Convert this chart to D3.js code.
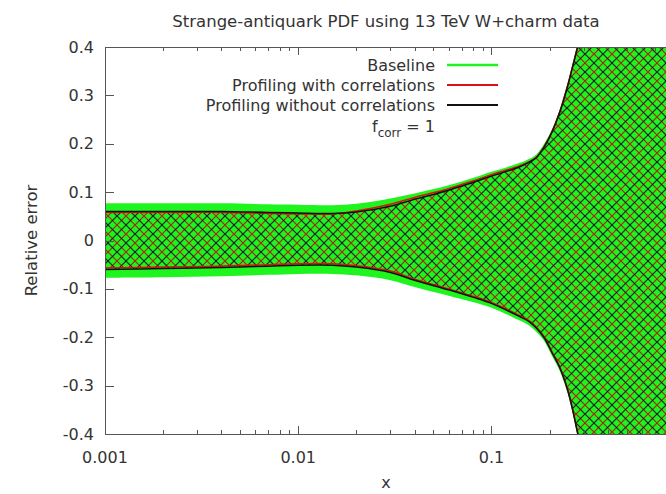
<!DOCTYPE html>
<html><head><meta charset="utf-8">
<script src="https://cdn.jsdelivr.net/npm/d3@7"></script>
<style>
html,body{margin:0;padding:0;background:#fff;}
svg{display:block;font-family:"DejaVu Sans",sans-serif;}
</style></head>
<body>
<svg id="c" width="666" height="494"></svg>
<script>
// ---- data ----
const title = "Strange-antiquark PDF using 13 TeV W+charm data";
const xLabel = "x";
const yLabel = "Relative error";
const xTickVals = [0.001, 0.01, 0.1];
const xTickLabels = ["0.001", "0.01", "0.1"];
const yTickVals = [-0.4, -0.3, -0.2, -0.1, 0, 0.1, 0.2, 0.3, 0.4];
const yTickLabels = ["-0.4", "-0.3", "-0.2", "-0.1", "0", "0.1", "0.2", "0.3", "0.4"];
const legendLabels = ["Baseline", "Profiling with correlations", "Profiling without correlations"];

const xs       = [0.001, 0.002, 0.004, 0.007, 0.01, 0.015, 0.02, 0.03, 0.04, 0.06, 0.08, 0.1, 0.1394, 0.1571, 0.1706, 0.1873, 0.2057, 0.2256, 0.2477, 0.2629, 0.279, 0.296, 0.325, 0.4, 0.6, 0.8];
const baseUp   = [0.077, 0.077, 0.077, 0.075, 0.074, 0.073, 0.076, 0.087, 0.097, 0.114, 0.129, 0.142, 0.160, 0.169, 0.178, 0.200, 0.230, 0.271, 0.325, 0.365, 0.406, 0.451, 0.54, 0.76, 1.4, 2.2];
const baseLo   = [-0.077, -0.076, -0.074, -0.071, -0.069, -0.069, -0.072, -0.082, -0.096, -0.114, -0.127, -0.139, -0.165, -0.176, -0.189, -0.208, -0.239, -0.270, -0.316, -0.356, -0.404, -0.451, -0.54, -0.76, -1.4, -2.2];
const corrUp   = [0.058, 0.058, 0.058, 0.056, 0.055, 0.055, 0.061, 0.075, 0.089, 0.107, 0.123, 0.136, 0.154, 0.163, 0.172, 0.194, 0.225, 0.266, 0.320, 0.360, 0.401, 0.446, 0.53, 0.75, 1.4, 2.2];
const corrLo   = [-0.057, -0.055, -0.053, -0.050, -0.048, -0.048, -0.052, -0.063, -0.080, -0.100, -0.115, -0.128, -0.155, -0.166, -0.179, -0.199, -0.230, -0.261, -0.307, -0.348, -0.396, -0.443, -0.53, -0.75, -1.4, -2.2];
const nocorrUp = [0.060, 0.060, 0.060, 0.058, 0.057, 0.056, 0.059, 0.071, 0.085, 0.104, 0.120, 0.133, 0.152, 0.162, 0.171, 0.193, 0.224, 0.265, 0.319, 0.359, 0.400, 0.445, 0.53, 0.75, 1.4, 2.2];
const nocorrLo = [-0.060, -0.058, -0.056, -0.053, -0.051, -0.051, -0.055, -0.066, -0.082, -0.102, -0.117, -0.130, -0.157, -0.168, -0.181, -0.201, -0.232, -0.263, -0.309, -0.350, -0.398, -0.445, -0.53, -0.75, -1.4, -2.2];

// ---- layout ----
const svg = d3.select("#c");
const L = 105, R = 666, T = 47, B = 434;
const x = d3.scaleLog().domain([0.001, 0.8]).range([L, R]);
const y = d3.scaleLinear().domain([-0.4, 0.4]).range([B, T]);
const GREEN = "#1ef51e", RED = "#e01010", BLACK = "#111";

const defs = svg.append("defs");
defs.append("clipPath").attr("id", "clip").append("rect")
  .attr("x", L).attr("y", T).attr("width", R - L).attr("height", B - T);

const P = 18;
function hatch(id, color, shift) {
  const p = defs.append("pattern").attr("id", id)
    .attr("patternUnits", "userSpaceOnUse").attr("width", P).attr("height", P)
    .attr("patternTransform", `translate(${shift},0)`);
  const e = 5;
  p.append("path")
    .attr("d", `M0,${P}L${P},0M${-e},${e}L${e},${-e}M${P-e},${P+e}L${P+e},${P-e}` +
               `M0,0L${P},${P}M${-e},${P-e}L${e},${P+e}M${P-e},${-e}L${P+e},${e}`)
    .attr("stroke", color).attr("stroke-width", 1.2).attr("fill", "none");
}
hatch("hRed", "#a02a10", 0);
hatch("hBlack", "#1a1a1a", P / 2);

const idx = d3.range(xs.length);
const curve = d3.curveCatmullRom.alpha(0.5);
const area = (up, lo) => d3.area().curve(curve)
  .x(i => x(xs[i])).y0(i => y(lo[i])).y1(i => y(up[i]));
const line = (arr) => d3.line().curve(curve)
  .x(i => x(xs[i])).y(i => y(arr[i]));

const g = svg.append("g").attr("clip-path", "url(#clip)");
g.append("path").attr("d", area(baseUp, baseLo)(idx)).attr("fill", GREEN);
g.append("path").attr("d", area(corrUp, corrLo)(idx)).attr("fill", "url(#hRed)");
g.append("path").attr("d", area(nocorrUp, nocorrLo)(idx)).attr("fill", "url(#hBlack)");
[corrUp, corrLo].forEach(a => g.append("path").attr("d", line(a)(idx))
  .attr("fill", "none").attr("stroke", RED).attr("stroke-width", 1.5));
[nocorrUp, nocorrLo].forEach(a => g.append("path").attr("d", line(a)(idx))
  .attr("fill", "none").attr("stroke", BLACK).attr("stroke-width", 1.5));

// ---- axes ----
const axisCol = "#555", textCol = "#333";
const minor = [];
[0.001, 0.01, 0.1].forEach(d => { for (let k = 2; k <= 9; k++) { const v = d * k; if (v <= 0.8) minor.push(v); } });

const ax = svg.append("g");
ax.append("line").attr("x1", L).attr("x2", R).attr("y1", B + 0.5).attr("y2", B + 0.5).attr("stroke", axisCol);
ax.append("line").attr("x1", L).attr("x2", R).attr("y1", T + 0.5).attr("y2", T + 0.5).attr("stroke", axisCol);
ax.append("line").attr("x1", L + 0.5).attr("x2", L + 0.5).attr("y1", T).attr("y2", B).attr("stroke", axisCol);

xTickVals.forEach(v => {
  const px = Math.round(x(v)) + 0.5;
  ax.append("line").attr("x1", px).attr("x2", px).attr("y1", B).attr("y2", B - 8).attr("stroke", axisCol);
  ax.append("line").attr("x1", px).attr("x2", px).attr("y1", T).attr("y2", T + 8).attr("stroke", axisCol);
});
minor.forEach(v => {
  const px = Math.round(x(v)) + 0.5;
  ax.append("line").attr("x1", px).attr("x2", px).attr("y1", B).attr("y2", B - 4).attr("stroke", axisCol);
  ax.append("line").attr("x1", px).attr("x2", px).attr("y1", T).attr("y2", T + 4).attr("stroke", axisCol);
});
yTickVals.forEach(v => {
  const py = Math.round(y(v)) + 0.5;
  ax.append("line").attr("x1", L).attr("x2", L + 9).attr("y1", py).attr("y2", py).attr("stroke", axisCol);
});

xTickVals.forEach((v, i) => {
  svg.append("text").attr("x", x(v)).attr("y", 463).attr("text-anchor", "middle")
    .attr("font-size", 16).attr("fill", textCol).text(xTickLabels[i]);
});
yTickVals.forEach((v, i) => {
  svg.append("text").attr("x", 94).attr("y", y(v)).attr("dy", "0.35em").attr("text-anchor", "end")
    .attr("font-size", 16).attr("fill", textCol).text(yTickLabels[i]);
});

svg.append("text").attr("x", 386).attr("y", 27).attr("text-anchor", "middle")
  .attr("font-size", 16.5).attr("fill", textCol).text(title);
svg.append("text").attr("x", 386).attr("y", 488).attr("text-anchor", "middle")
  .attr("font-size", 16).attr("fill", textCol).text(xLabel);
svg.append("text").attr("transform", "translate(37,240.5) rotate(-90)").attr("text-anchor", "middle")
  .attr("font-size", 16.5).attr("fill", textCol).text(yLabel);

const legCols = [GREEN, RED, BLACK];
const legW = [2.5, 1.8, 1.8];
legendLabels.forEach((t, i) => {
  const yy = 65 + i * 20;
  svg.append("text").attr("x", 435).attr("y", yy).attr("dy", "0.35em").attr("text-anchor", "end")
    .attr("font-size", 16).attr("fill", textCol).text(t);
  svg.append("line").attr("x1", 447).attr("x2", 498).attr("y1", yy).attr("y2", yy)
    .attr("stroke", legCols[i]).attr("stroke-width", legW[i]);
});
const ft = svg.append("text").attr("x", 435).attr("y", 126).attr("dy", "0.35em").attr("text-anchor", "end")
  .attr("font-size", 16).attr("fill", textCol);
ft.append("tspan").text("f");
ft.append("tspan").attr("font-size", 12).attr("dy", 5).text("corr");
ft.append("tspan").attr("dy", -5).text(" = 1");
</script>
</body></html>
